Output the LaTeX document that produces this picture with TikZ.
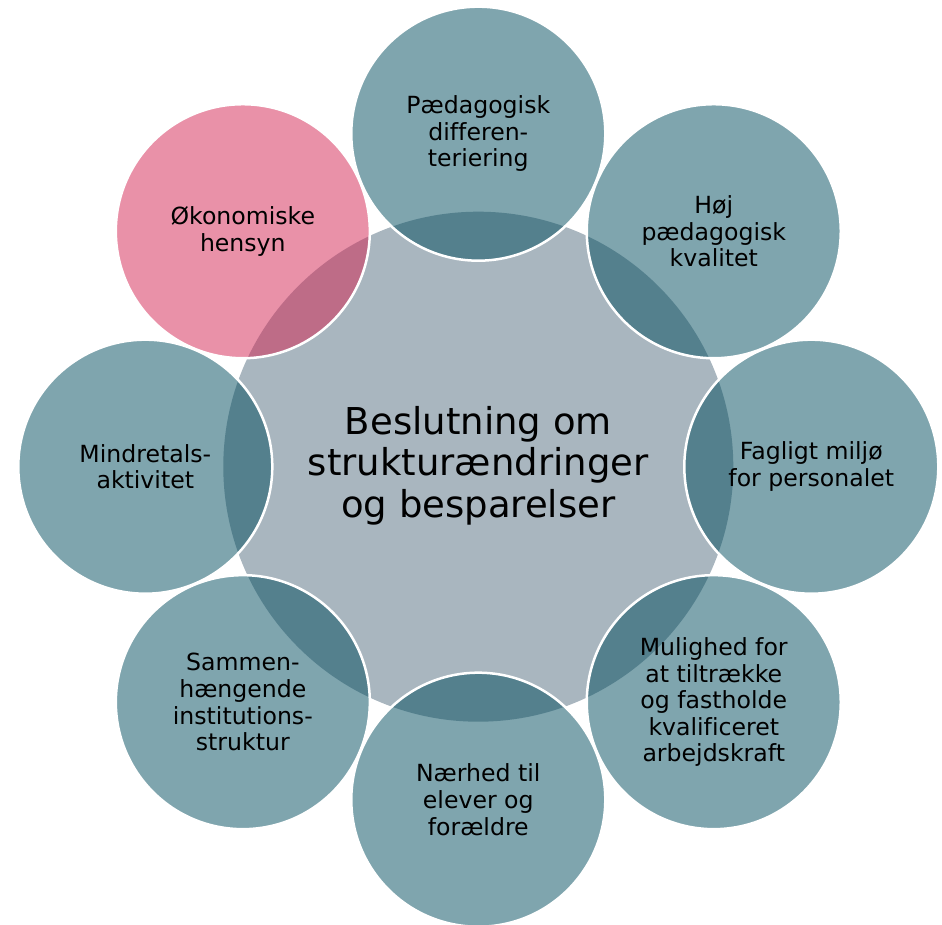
\documentclass[tikz,border=0pt]{standalone}
\usepackage{fontspec}
\setmainfont{DejaVu Sans}[Ligatures=NoCommon]
\usepackage{tikz}

\definecolor{kerne}{RGB}{169,182,191}
\definecolor{petrol}{RGB}{0,75,93}
\definecolor{rosa}{RGB}{211,35,81}

\tikzset{
  faktor/.style={circle, minimum size=254pt, inner sep=0pt, fill=petrol,
    fill opacity=0.5, text opacity=1, draw=white, line width=2.5pt,
    align=center, font=\fontsize{23.6}{26.6}\selectfont},
}

\begin{document}
\begin{tikzpicture}[x=1pt,y=1pt]
\useasboundingbox (-478.3,-458.3) rectangle (463.7,466.7);
% midten
\fill[kerne] (0,0) circle(255);
\node[align=center, font=\fontsize{37}{41.5}\selectfont] (beslutning) at (0,1)
  {Beslutning om\\strukturændringer\\og besparelser};
% hensyn rundt om
\node[faktor] (differentiering) at (90:333) {Pædagogisk\\differen-\\teriering};
\node[faktor] (kvalitet) at (45:333) {Høj\\pædagogisk\\kvalitet};
\node[faktor] (miljoe) at (0:333) {Fagligt miljø\\for personalet};
\node[faktor] (arbejdskraft) at (-45:333) {Mulighed for\\at tiltrække\\og fastholde\\kvalificeret\\arbejdskraft};
\node[faktor] (naerhed) at (-90:333) {Nærhed til\\elever og\\forældre};
\node[faktor] (struktur) at (-135:333) {Sammen-\\hængende\\institutions-\\struktur};
\node[faktor] (mindretal) at (180:333) {Mindretals-\\aktivitet};
\node[faktor, fill=rosa] (oekonomi) at (135:333) {Økonomiske\\hensyn};
\end{tikzpicture}
\end{document}
